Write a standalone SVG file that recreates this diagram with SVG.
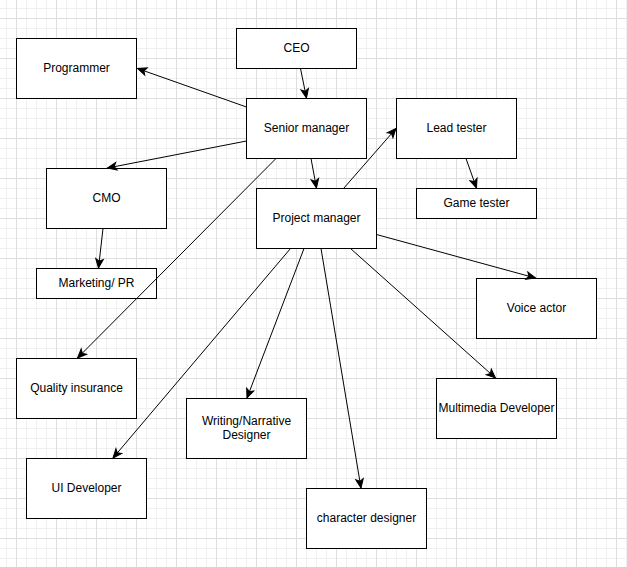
<svg xmlns="http://www.w3.org/2000/svg" width="627" height="567" viewBox="0 0 627 567">
  <defs>
    <pattern id="grid" patternUnits="userSpaceOnUse" x="16" y="18" width="40" height="40">
      <path d="M10.5,0 V40 M20.5,0 V40 M30.5,0 V40 M0,10.5 H40 M0,20.5 H40 M0,30.5 H40" stroke="#f0f0f0" stroke-width="1" fill="none"/>
      <path d="M0.5,0 V40 M0,0.5 H40" stroke="#dedede" stroke-width="1" fill="none"/>
    </pattern>
    <marker id="arrow" viewBox="-11 -6 12 12" markerWidth="12" markerHeight="12" refX="0" refY="0" orient="auto" markerUnits="userSpaceOnUse">
      <path d="M0,0 L-9,-3.8 L-6.8,0 L-9,3.8 Z" fill="#000" stroke="#000" stroke-width="1"/>
    </marker>
    <style>
      .box { fill: #fff; stroke: #000; stroke-width: 1; }
      .lbl { font-family: "Liberation Sans", Arial, sans-serif; font-size: 12px; fill: #000; text-anchor: middle; }
      .edge { stroke: #000; stroke-width: 1; fill: none; marker-end: url(#arrow); }
    </style>
  </defs>
  <rect x="0" y="0" width="627" height="567" fill="#fff"/>
  <rect x="0" y="0" width="627" height="567" fill="url(#grid)"/>

  <g id="ceo"><rect class="box" x="236.5" y="28.5" width="120" height="40"/><text class="lbl" x="296.5" y="51.5">CEO</text></g>
  <g id="programmer"><rect class="box" x="16.5" y="38.5" width="120" height="60"/><text class="lbl" x="76.5" y="71.5">Programmer</text></g>
  <g id="senior-manager"><rect class="box" x="246.5" y="98.5" width="120" height="60"/><text class="lbl" x="306.5" y="131.5">Senior manager</text></g>
  <g id="lead-tester"><rect class="box" x="396.5" y="98.5" width="120" height="60"/><text class="lbl" x="456.5" y="131.5">Lead tester</text></g>
  <g id="cmo"><rect class="box" x="46.5" y="168.5" width="120" height="60"/><text class="lbl" x="106.5" y="201.5">CMO</text></g>
  <g id="game-tester"><rect class="box" x="416.5" y="188.5" width="120" height="30"/><text class="lbl" x="476.5" y="206.5">Game tester</text></g>
  <g id="project-manager"><rect class="box" x="256.5" y="188.5" width="120" height="60"/><text class="lbl" x="316.5" y="221.5">Project manager</text></g>
  <g id="marketing-pr"><rect class="box" x="36.5" y="268.5" width="120" height="30"/><text class="lbl" x="96.5" y="286.5">Marketing/ PR</text></g>
  <g id="voice-actor"><rect class="box" x="476.5" y="278.5" width="120" height="60"/><text class="lbl" x="536.5" y="311.5">Voice actor</text></g>
  <g id="quality-insurance"><rect class="box" x="16.5" y="358.5" width="120" height="60"/><text class="lbl" x="76.5" y="391.5">Quality insurance</text></g>
  <g id="multimedia-developer"><rect class="box" x="436.5" y="378.5" width="120" height="60"/><text class="lbl" x="496.5" y="411.5">Multimedia Developer</text></g>
  <g id="writing-narrative-designer"><rect class="box" x="186.5" y="398.5" width="120" height="60"/><text class="lbl" x="246.5" y="424.5">Writing/Narrative</text><text class="lbl" x="246.5" y="438.5">Designer</text></g>
  <g id="ui-developer"><rect class="box" x="26.5" y="458.5" width="120" height="60"/><text class="lbl" x="86.5" y="491.5">UI Developer</text></g>
  <g id="character-designer"><rect class="box" x="306.5" y="488.5" width="120" height="60"/><text class="lbl" x="366.5" y="521.5">character designer</text></g>

  <g id="connectors">
    <line class="edge" x1="300.5" y1="68.5" x2="306.5" y2="98"/>
    <line class="edge" x1="246.5" y1="107" x2="137.5" y2="68.5"/>
    <line class="edge" x1="246.5" y1="141" x2="107.5" y2="168"/>
    <line class="edge" x1="103" y1="228.5" x2="98.5" y2="268"/>
    <line class="edge" x1="276" y1="158.5" x2="77.5" y2="358"/>
    <line class="edge" x1="311" y1="158.5" x2="316.5" y2="188"/>
    <line class="edge" x1="343.5" y1="188.5" x2="396" y2="128.5"/>
    <line class="edge" x1="466" y1="158.5" x2="476.5" y2="188"/>
    <line class="edge" x1="376.5" y1="234.5" x2="535.5" y2="278"/>
    <line class="edge" x1="350.5" y1="248.5" x2="495.5" y2="378"/>
    <line class="edge" x1="321" y1="248.5" x2="361" y2="488"/>
    <line class="edge" x1="304" y1="248.5" x2="247" y2="398"/>
    <line class="edge" x1="290.5" y1="248.5" x2="113" y2="458"/>
  </g>
</svg>
